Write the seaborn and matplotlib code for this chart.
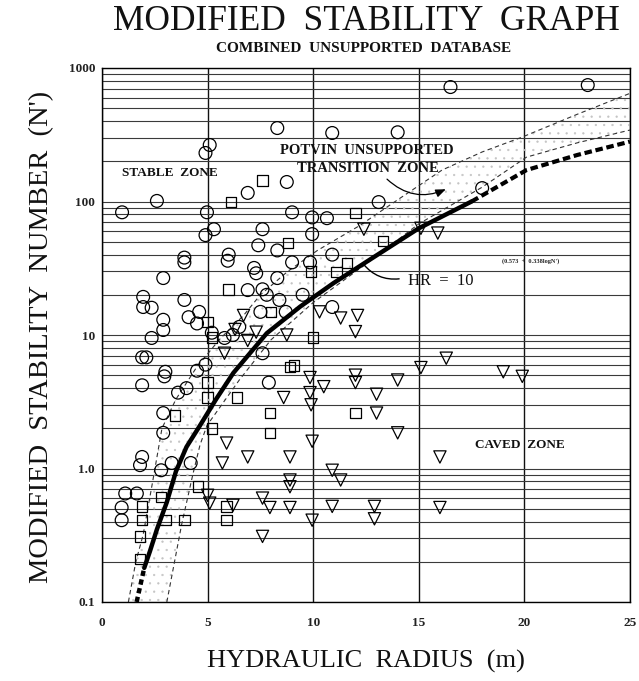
import numpy as np
import pandas as pd
import matplotlib
matplotlib.use("Agg")
import matplotlib.pyplot as plt
import seaborn as sns
from matplotlib.ticker import LogLocator, NullFormatter, FixedLocator

# ---------------- data ----------------
stable_hr = [16.5, 23.0, 8.3, 10.9, 14.0, 5.1, 4.9, 0.95, 2.6, 4.97, 6.9, 8.75, 5.3, 7.6, 9.0,
             9.95, 10.65, 9.95, 13.1, 18.0, 4.9, 3.9, 3.9, 6.0, 5.95, 7.4, 8.3, 9.0, 9.85, 10.9,
             2.9, 7.2, 7.3, 8.3, 6.9, 7.6, 7.8, 1.95, 1.95, 2.35, 3.9, 2.9, 4.1, 4.6, 4.5,
             8.4, 7.5, 8.7, 9.5, 10.9, 2.9, 2.35, 1.9, 2.1, 3.0, 2.95, 1.9, 4.5, 4.9, 5.2,
             7.6, 7.9, 3.6, 4.0, 2.9, 2.9, 1.9, 1.8, 2.8, 3.3, 4.2, 1.1, 1.65, 0.93, 0.93,
             6.5, 6.2, 5.8]
stable_n = [720, 745, 355, 326, 330, 265, 231, 83, 101, 83, 116, 140, 62, 62, 83,
            76, 75, 57, 99, 126, 56, 38, 35, 40, 36, 47, 43, 35, 35, 40,
            26.7, 31.8, 29, 26.7, 21.7, 22, 20, 19.3, 16.2, 16, 18.3, 13, 13.6, 14.9, 12.2,
            18.3, 14.9, 14.9, 20, 16.2, 10.9, 9.5, 6.8, 6.8, 5.3, 4.9, 4.2, 5.4, 6.0, 10.4,
            7.3, 4.4, 3.7, 4.0, 2.6, 1.85, 1.22, 1.06, 0.97, 1.1, 1.1, 0.65, 0.65, 0.51, 0.41,
            11.5, 10, 9.5]

unsup_hr = [7.6, 6.1, 12.0, 8.8, 11.1, 11.6, 13.3, 6.0, 9.9, 5.0, 5.2, 8.0, 10.0, 5.0, 5.0,
            6.4, 8.9, 9.1, 7.95, 12.0, 3.45, 7.95, 5.2, 4.55, 2.8, 1.9, 1.9, 3.0, 3.9, 5.9,
            5.9, 1.8, 1.8]
unsup_n = [143, 99, 82, 49, 29.6, 34.6, 50.6, 22, 30, 12.5, 9.6, 14.9, 9.6, 4.4, 3.4,
           3.4, 5.75, 5.9, 2.6, 2.6, 2.5, 1.85, 2.0, 0.73, 0.61, 0.52, 0.41, 0.41, 0.41, 0.52,
           0.41, 0.31, 0.21]

caved_hr = [16.3, 15.1, 19.0, 19.9, 14.0, 13.0, 13.0, 14.0, 16.0, 12.9, 12.9, 16.0, 12.4, 15.1, 15.9,
            10.3, 11.3, 12.1, 12.0, 8.75, 12.0, 12.0, 10.5, 9.85, 9.85, 8.6, 9.9, 6.7, 5.8, 6.9,
            5.9, 5.7, 6.9, 8.9, 9.95, 10.9, 11.3, 8.9, 8.9, 7.6, 7.95, 8.9, 9.95, 10.9, 7.6,
            5.0, 5.1, 6.2, 6.3, 7.3]
caved_n = [6.7, 5.7, 5.3, 4.9, 4.6, 3.6, 2.6, 1.85, 1.22, 0.52, 0.42, 0.51, 62, 63, 58,
           14.9, 13.4, 14, 10.6, 10, 5.0, 4.4, 4.1, 4.8, 3.7, 3.4, 3.0, 14, 7.3, 9.1,
           1.55, 1.1, 1.22, 1.22, 1.6, 0.97, 0.82, 0.82, 0.73, 0.6, 0.51, 0.51, 0.41, 0.52, 0.31,
           0.63, 0.55, 0.53, 11, 10.5]

# transition zone boundaries (Potvin)
upper_hr = [1.25, 1.6, 1.95, 2.4, 2.84, 3.5, 4.5, 5.6, 6.7, 7.5, 8.8, 10.2, 12.2, 14.0, 16.1, 18.0, 19.9, 22.5, 25.0]
upper_n = [0.1, 0.2, 0.32, 0.8, 2.0, 3.3, 5.8, 9.4, 14, 20, 30, 43, 66, 103, 172, 235, 304, 450, 646]
lower_hr = [3.07, 3.77, 4.3, 4.64, 4.97, 6.5, 8.0, 10.0, 12.5, 15.0, 18.0, 20.1, 22.5, 25.0]
lower_n = [0.1, 0.38, 0.9, 1.5, 2.1, 4.6, 9.2, 17.5, 34, 68, 128, 215, 275, 343]

# HR = 10 design curve
fit_hr = [2.0, 2.27, 2.6, 3.07, 3.5, 4.0, 4.64, 5.4, 6.22, 7.8, 9.38, 10.95, 12.53, 15.0, 17.5]
fit_n = [0.18, 0.24, 0.35, 0.56, 0.95, 1.45, 2.1, 3.3, 5.2, 10.3, 16.3, 24.4, 35.4, 63, 100]
fit_low_hr = [1.64, 2.0]
fit_low_n = [0.1, 0.18]
fit_ext_hr = [17.5, 20.1, 22.5, 25.0]
fit_ext_n = [100, 172, 223, 281]

x_ticks = [0, 5, 10, 15, 20, 25]
y_ticks = [0.1, 1, 10, 100, 1000]
y_tick_labels = ["0.1", "1.0", "10", "100", "1000"]

# ---------------- figure ----------------
sns.set_theme(style="white")
plt.rcParams["font.family"] = ["Liberation Serif", "DejaVu Serif"]
plt.rcParams["hatch.color"] = "#c4c4c4"
plt.rcParams["hatch.linewidth"] = 0.4

W, H = 639, 681
fig = plt.figure(figsize=(W / 100, H / 100), dpi=100)
ax = fig.add_axes([102 / W, 1 - 602 / H, 528 / W, 534 / H])

ax.set_yscale("log")
ax.set_xlim(0, 25)
ax.set_ylim(0.1, 1000)

# grid
ax.yaxis.set_minor_locator(LogLocator(base=10, subs=np.arange(2, 10)))
ax.yaxis.set_minor_formatter(NullFormatter())
ax.yaxis.set_major_locator(FixedLocator(y_ticks))
ax.set_yticklabels(y_tick_labels)
ax.set_xticks(x_ticks)
ax.grid(True, which="both", axis="y", color="#3a3a3a", linewidth=0.8)
ax.grid(True, which="major", axis="x", color="#111111", linewidth=1.0)
ax.set_axisbelow(True)
for s in ax.spines.values():
    s.set_color("black")
    s.set_linewidth(1.0)

ax.tick_params(axis="both", which="both", length=0)
ax.tick_params(axis="y", pad=5, labelsize=9.5)
ax.tick_params(axis="x", pad=11, labelsize=9.5)
for lab in ax.get_xticklabels() + ax.get_yticklabels():
    lab.set_fontweight("bold")
    lab.set_color("#222222")

# transition zone shading (stippled)
poly_x = upper_hr + lower_hr[::-1]
poly_y = upper_n + lower_n[::-1]
ax.fill(poly_x, poly_y, facecolor="none", edgecolor="#c4c4c4", hatch="..", linewidth=0, zorder=1)

sns.lineplot(x=upper_hr, y=upper_n, ax=ax, sort=False, estimator=None, color="#333333",
             linewidth=0.8, zorder=2).lines[-1].set_dashes([4, 3])
sns.lineplot(x=lower_hr, y=lower_n, ax=ax, sort=False, estimator=None, color="#333333",
             linewidth=0.8, zorder=2).lines[-1].set_dashes([4, 3])

# design curve
sns.lineplot(x=fit_hr, y=fit_n, ax=ax, sort=False, estimator=None, color="black",
             linewidth=3.2, zorder=4)
sns.lineplot(x=fit_low_hr, y=fit_low_n, ax=ax, sort=False, estimator=None, color="black",
             linewidth=3.2, zorder=4).lines[-1].set_dashes([1.2, 0.8])
sns.lineplot(x=fit_ext_hr, y=fit_ext_n, ax=ax, sort=False, estimator=None, color="black",
             linewidth=3.0, zorder=4).lines[-1].set_dashes([1.8, 0.9])

# data points
sns.scatterplot(x=stable_hr, y=stable_n, ax=ax, marker="o", s=85, facecolor="none",
                edgecolor="black", linewidth=0.9, zorder=3)
sns.scatterplot(x=unsup_hr, y=unsup_n, ax=ax, marker="s", s=58, facecolor="none",
                edgecolor="black", linewidth=0.9, zorder=3)
sns.scatterplot(x=caved_hr, y=caved_n, ax=ax, marker="v", s=78, facecolor="none",
                edgecolor="black", linewidth=0.9, zorder=3)

# annotations
bold = dict(fontweight="bold", color="#111111")
ax.text(3.22, 163, "STABLE  ZONE", ha="center", va="center", fontsize=9.5, **bold)
ax.text(12.55, 243, "POTVIN  UNSUPPORTED", ha="center", va="center", fontsize=10.5, **bold)
ax.text(12.6, 178, "TRANSITION  ZONE", ha="center", va="center", fontsize=10.5, **bold)
ax.annotate("", xy=(16.4, 126), xytext=(13.4, 152),
            arrowprops=dict(arrowstyle="-|>,head_length=0.5,head_width=0.2", color="black",
                            lw=0.9, connectionstyle="arc3,rad=0.35"))
ax.text(19.8, 1.5, "CAVED  ZONE", ha="center", va="center", fontsize=9.5, **bold)
ax.text(16.05, 25.5, "HR  =  10", ha="center", va="center", fontsize=12, color="#111111")
ax.annotate("", xy=(12.3, 35.2), xytext=(14.2, 26.5),
            arrowprops=dict(arrowstyle="-", color="black", lw=1.0,
                            connectionstyle="arc3,rad=-0.3"))
ax.text(20.3, 35.5, "(0.573  +  0.338logN')", ha="center", va="center", fontsize=4.5,
        fontweight="bold", color="#222222")

ax.set_xlabel("")
ax.set_ylabel("")

# titles and axis labels
fig.text(366 / W, 1 - 22 / H, "MODIFIED  STABILITY  GRAPH", ha="center", va="center",
         fontsize=25.5, color="#111111")
fig.text(364 / W, 1 - 48 / H, "COMBINED  UNSUPPORTED  DATABASE", ha="center", va="center",
         fontsize=11, fontweight="bold", color="#111111")
fig.text(366 / W, 1 - 661 / H, "HYDRAULIC  RADIUS  (m)", ha="center", va="center",
         fontsize=19, color="#111111")
fig.text(42 / W, 1 - 337 / H, "MODIFIED  STABILITY  NUMBER  (N')", ha="center", va="center",
         rotation=90, fontsize=20.5, color="#111111")

fig.savefig("out.png", dpi=100, facecolor="white")
